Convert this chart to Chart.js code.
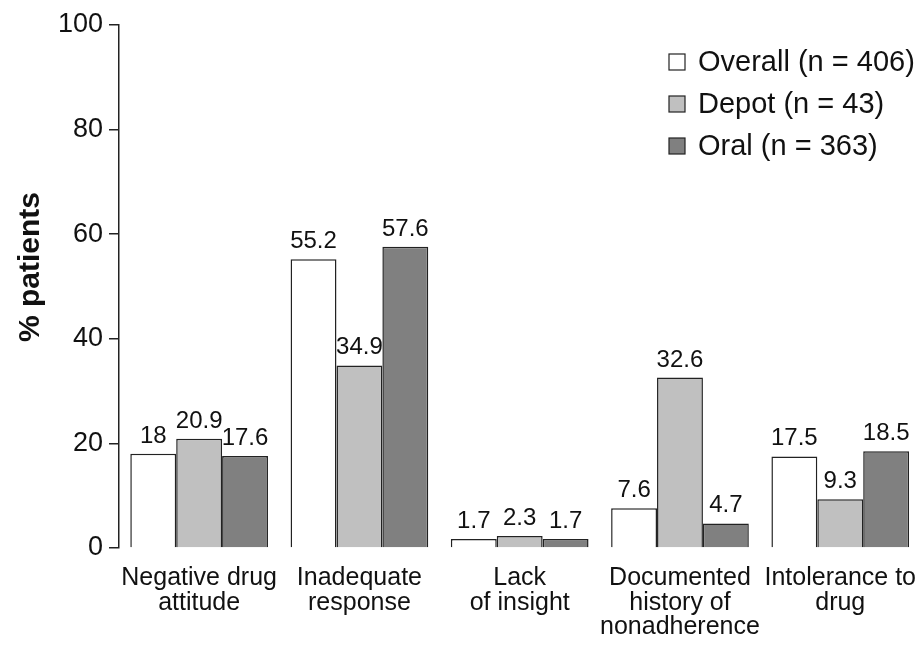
<!DOCTYPE html>
<html>
<head>
<meta charset="utf-8">
<script src="https://cdn.jsdelivr.net/npm/chart.js@4.4.1/dist/chart.umd.min.js"></script>
<style>
    html, body { margin: 0; padding: 0; background: #fff; overflow: hidden; }
    #chart { display: block; }
</style>
</head>
<body>
<canvas id="chart" width="926" height="645"></canvas>
<script>
const categories = [
    ['Negative drug', 'attitude'],
    ['Inadequate', 'response'],
    ['Lack', 'of insight'],
    ['Documented', 'history of', 'nonadherence'],
    ['Intolerance to', 'drug'],
];
const overallValues = [18, 55.2, 1.7, 7.6, 17.5];
const depotValues = [20.9, 34.9, 2.3, 32.6, 9.3];
const oralValues = [17.6, 57.6, 1.7, 4.7, 18.5];
const seriesNames = ['Overall (n = 406)', 'Depot (n = 43)', 'Oral (n = 363)'];
const yTicks = [0, 20, 40, 60, 80, 100];
const yTitle = '% patients';

const FONT = '"Liberation Sans", Arial, sans-serif';
const INK = '#111';
const EDGE = '#222';

// value labels above each bar
const barLabels = {
    id: 'barLabels',
    afterDatasetsDraw(chart) {
        const ctx = chart.ctx;
        ctx.save();
        ctx.font = '24px ' + FONT;
        ctx.fillStyle = INK;
        ctx.textAlign = 'center';
        ctx.textBaseline = 'alphabetic';
        chart.data.datasets.forEach((ds, i) => {
            chart.getDatasetMeta(i).data.forEach((bar, j) => {
                ctx.fillText(String(ds.data[j]), bar.x, bar.y - 11);
            });
        });
        ctx.restore();
    }
};

// legend in the upper right corner, and the rotated y title
const extras = {
    id: 'extras',
    afterDraw(chart) {
        const ctx = chart.ctx;
        ctx.save();
        ctx.font = '29px ' + FONT;
        ctx.textBaseline = 'middle';
        ctx.textAlign = 'left';
        chart.data.datasets.forEach((ds, i) => {
            const cy = 62 + i * 42;
            ctx.fillStyle = ds.backgroundColor;
            ctx.fillRect(669, cy - 8, 16, 16);
            ctx.strokeStyle = EDGE;
            ctx.lineWidth = 1.2;
            ctx.strokeRect(669, cy - 8, 16, 16);
            ctx.fillStyle = INK;
            ctx.fillText(ds.label, 698, cy + 1);
        });
        ctx.restore();

        ctx.save();
        ctx.translate(31, 267);
        ctx.rotate(-Math.PI / 2);
        ctx.font = 'bold 30px ' + FONT;
        ctx.fillStyle = INK;
        ctx.textAlign = 'center';
        ctx.textBaseline = 'middle';
        ctx.fillText(yTitle, 0, 0);
        ctx.restore();
    }
};

const datasetStyle = {
    borderColor: EDGE,
    borderWidth: 1.5,
    categoryPercentage: 0.859,
    barPercentage: 1.0,
};

new Chart(document.getElementById('chart'), {
    type: 'bar',
    data: {
        labels: categories,
        datasets: [
            { label: seriesNames[0], data: overallValues, backgroundColor: '#ffffff', ...datasetStyle },
            { label: seriesNames[1], data: depotValues, backgroundColor: '#c0c0c0', ...datasetStyle },
            { label: seriesNames[2], data: oralValues, backgroundColor: '#808080', ...datasetStyle },
        ],
    },
    options: {
        responsive: false,
        animation: false,
        devicePixelRatio: 1,
        layout: { padding: { top: 25, right: 0, left: 0, bottom: 0 } },
        plugins: {
            legend: { display: false },
            tooltip: { enabled: false },
        },
        scales: {
            x: {
                grid: { display: false },
                border: { display: false },
                ticks: {
                    color: INK,
                    font: { family: FONT, size: 25, lineHeight: 0.98 },
                    maxRotation: 0,
                    autoSkip: false,
                    padding: 10,
                },
                afterFit(scale) { scale.height = 97; },
            },
            y: {
                min: 0,
                max: 100,
                afterBuildTicks(scale) { scale.ticks = yTicks.map(v => ({ value: v })); },
                grid: { drawOnChartArea: false, drawTicks: true, tickLength: 10, color: EDGE, lineWidth: 1.5 },
                border: { display: true, color: EDGE, width: 1.5 },
                ticks: {
                    color: INK,
                    font: { family: FONT, size: 27 },
                    padding: 6,
                },
                afterFit(scale) { scale.width = 119; },
            },
        },
    },
    plugins: [barLabels, extras],
});
</script>
</body>
</html>
